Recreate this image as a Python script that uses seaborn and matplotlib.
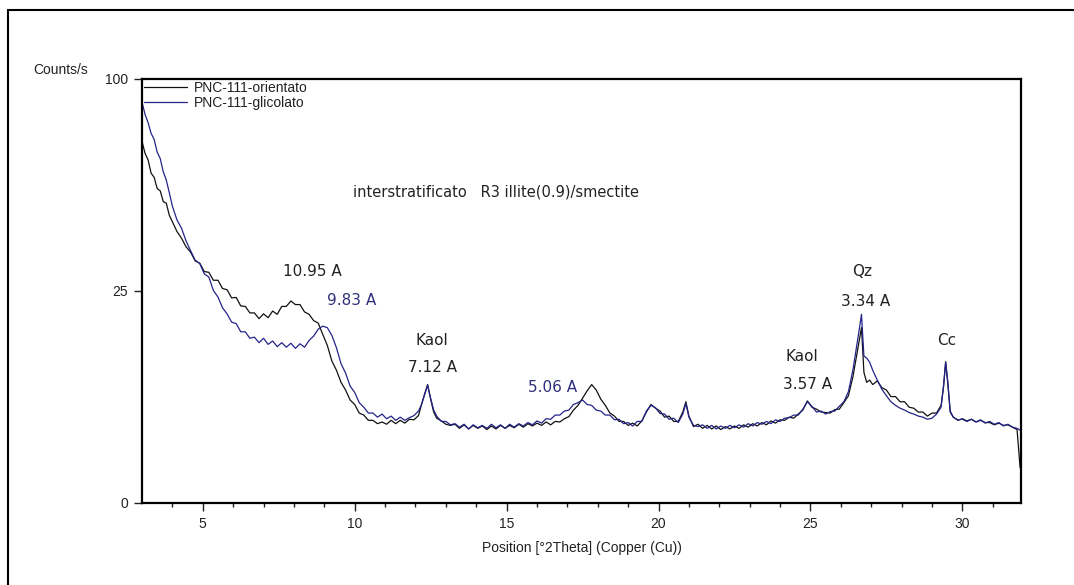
import numpy as np
import pandas as pd
import matplotlib
matplotlib.use("Agg")
import matplotlib.pyplot as plt
from matplotlib.patches import Rectangle
import seaborn as sns

# ---------------- data ----------------
two_theta = [
    3.0, 3.1, 3.2, 3.3, 3.4, 3.5, 3.6, 3.7, 3.8, 3.9, 4.0, 4.15, 4.3, 4.45, 4.6, 4.75, 4.9, 5.05,
    5.2, 5.35, 5.5, 5.65, 5.8, 5.95, 6.1, 6.25, 6.4, 6.55, 6.7, 6.85, 7.0, 7.15, 7.3, 7.45, 7.6,
    7.75, 7.9, 8.05, 8.2, 8.35, 8.5, 8.65, 8.8, 8.95, 9.1, 9.25, 9.4, 9.55, 9.7, 9.85, 10.0, 10.15,
    10.3, 10.45, 10.6, 10.75, 10.9, 11.05, 11.2, 11.35, 11.5, 11.65, 11.8, 11.95, 12.1, 12.2, 12.3,
    12.4, 12.5, 12.6, 12.7, 12.85, 13.0, 13.15, 13.3, 13.45, 13.6, 13.75, 13.9, 14.05, 14.2, 14.35,
    14.5, 14.65, 14.8, 14.95, 15.1, 15.25, 15.4, 15.55, 15.7, 15.85, 16.0, 16.15, 16.3, 16.45, 16.6,
    16.75, 16.9, 17.05, 17.2, 17.35, 17.5, 17.65, 17.8, 17.95, 18.1, 18.25, 18.4, 18.55, 18.7, 18.85,
    19.0, 19.15, 19.3, 19.45, 19.6, 19.75, 19.9, 20.05, 20.2, 20.35, 20.5, 20.65, 20.8, 20.9, 21.0,
    21.15, 21.3, 21.45, 21.6, 21.75, 21.9, 22.05, 22.2, 22.35, 22.5, 22.65, 22.8, 22.95, 23.1, 23.25,
    23.4, 23.55, 23.7, 23.85, 24.0, 24.15, 24.3, 24.45, 24.6, 24.75, 24.9, 25.05, 25.2, 25.35, 25.5,
    25.65, 25.8, 25.95, 26.1, 26.25, 26.4, 26.5, 26.6, 26.68, 26.76, 26.85, 26.95, 27.05, 27.2, 27.35,
    27.5, 27.65, 27.8, 27.95, 28.1, 28.25, 28.4, 28.55, 28.7, 28.85, 29.0, 29.15, 29.3, 29.38, 29.45,
    29.52, 29.6, 29.7, 29.85, 30.0, 30.15, 30.3, 30.45, 30.6, 30.75, 30.9, 31.05, 31.2, 31.35, 31.5,
    31.65, 31.8, 31.9,
]

orientato = [
    72.8, 68.0, 65.5, 60.5, 59.0, 55.0, 54.2, 50.5, 50.0, 46.0, 44.0, 41.0, 39.0, 36.5, 35.0, 32.6, 32.0, 29.8,
    29.6, 27.6, 27.6, 25.6, 25.3, 23.4, 23.5, 21.6, 21.5, 20.1, 20.1, 18.9, 19.9, 19.1, 20.5, 19.8, 21.5,
    21.5, 22.7, 21.9, 21.9, 20.3, 19.8, 18.5, 18.0, 15.8, 13.8, 11.2, 9.8, 8.1, 7.1, 5.9, 5.4, 4.5,
    4.3, 3.8, 3.8, 3.5, 3.65, 3.45, 3.8, 3.5, 3.8, 3.55, 3.9, 3.85, 4.25, 5.4, 6.6,
    7.8, 6.0, 4.6, 4.0, 3.75, 3.45, 3.35, 3.45, 3.1, 3.4, 3.05, 3.35, 3.1, 3.3, 3.0,
    3.3, 3.05, 3.35, 3.1, 3.35, 3.15, 3.45, 3.2, 3.5, 3.3, 3.55, 3.35, 3.65, 3.4, 3.7,
    3.65, 3.95, 4.15, 4.8, 5.3, 6.1, 7.0, 7.8, 7.1, 6.0, 5.3, 4.5, 4.2, 3.7, 3.7,
    3.35, 3.55, 3.3, 3.75, 4.6, 5.4, 5.0, 4.7, 4.1, 4.2, 3.7, 3.7, 4.6, 5.7, 4.2,
    3.25, 3.45, 3.1, 3.35, 3.05, 3.3, 3.0, 3.25, 3.05, 3.3, 3.1, 3.4, 3.2, 3.5, 3.3,
    3.6, 3.4, 3.75, 3.55, 3.85, 3.8, 4.1, 4.0, 4.4, 4.8, 5.8, 5.1, 4.9, 4.6, 4.55,
    4.5, 4.85, 4.9, 5.6, 6.4, 8.9, 11.5, 14.5, 17.1, 9.5, 8.1, 8.4, 7.8, 8.3, 7.4,
    7.1, 6.3, 6.3, 5.7, 5.7, 5.1, 5.0, 4.6, 4.6, 4.2, 4.5, 4.5, 5.3, 7.5, 11.1,
    8.0, 4.6, 4.1, 3.8, 3.95, 3.75, 3.9, 3.65, 3.8, 3.6, 3.6, 3.4, 3.55, 3.35, 3.4,
    3.2, 3.0, 0.7,
]

glicolato = [
    89.4, 84.0, 80.5, 76.0, 73.5, 68.5, 66.0, 61.0, 58.0, 53.5, 49.0, 44.6, 42.0, 38.2, 35.4, 32.8, 31.9, 29.2,
    28.4, 25.1, 23.6, 21.2, 19.9, 18.2, 17.9, 16.3, 16.3, 15.1, 15.3, 14.3, 15.1, 14.0, 14.6, 13.6, 14.3,
    13.5, 14.2, 13.3, 14.1, 13.5, 14.7, 15.5, 16.8, 17.4, 17.1, 15.6, 13.4, 10.8, 9.4, 7.6, 6.8, 5.6,
    5.1, 4.5, 4.5, 4.1, 4.4, 3.95, 4.2, 3.8, 4.1, 3.8, 4.05, 4.25, 4.7, 5.4, 6.5,
    7.7, 6.1, 4.8, 4.2, 3.7, 3.7, 3.4, 3.5, 3.2, 3.45, 3.05, 3.4, 3.15, 3.35, 3.1,
    3.45, 3.15, 3.4, 3.1, 3.45, 3.2, 3.5, 3.3, 3.6, 3.4, 3.75, 3.55, 3.95, 3.9, 4.3,
    4.3, 4.7, 4.8, 5.4, 5.6, 5.9, 5.4, 5.3, 4.8, 4.7, 4.3, 4.3, 3.85, 3.9, 3.5,
    3.6, 3.3, 3.7, 3.7, 4.7, 5.3, 5.05, 4.45, 4.4, 3.9, 4.0, 3.6, 4.4, 5.5, 4.1,
    3.35, 3.25, 3.4, 3.1, 3.35, 3.05, 3.3, 3.1, 3.35, 3.15, 3.4, 3.2, 3.5, 3.3, 3.6,
    3.45, 3.7, 3.5, 3.85, 3.7, 4.0, 4.05, 4.3, 4.3, 4.9, 5.7, 5.2, 4.6, 4.7, 4.4,
    4.65, 4.7, 5.2, 5.7, 6.9, 9.9, 13.0, 16.5, 19.8, 12.0, 11.7, 11.0, 9.8, 8.4, 7.2,
    6.4, 5.7, 5.3, 5.0, 4.8, 4.55, 4.4, 4.2, 4.1, 3.9, 4.0, 4.4, 5.1, 7.6, 11.0,
    8.2, 4.7, 4.1, 3.85, 3.9, 3.7, 3.9, 3.65, 3.85, 3.55, 3.7, 3.45, 3.6, 3.3, 3.45,
    3.2, 3.1, 2.95,
]

series_names = ["PNC-111-orientato", "PNC-111-glicolato"]
series_colors = ["#111111", "#24248a"]

y_ticks = [0, 25, 100]
x_ticks = [5, 10, 15, 20, 25, 30]

# peak labels: (text, x, y, colour)
labels_text = ["10.95 A", "9.83 A", "Kaol", "7.12 A", "5.06 A", "Kaol", "3.57 A", "Qz", "3.34 A", "Cc"]
labels_x = [8.6, 9.9, 12.55, 12.55, 16.5, 24.72, 24.9, 26.7, 26.8, 29.5]
labels_y = [29.8, 22.8, 14.7, 10.2, 7.4, 11.9, 7.8, 29.8, 22.6, 14.6]
labels_col = ["#222222", "#30307a", "#222222", "#222222", "#30307a",
              "#222222", "#222222", "#222222", "#222222", "#222222"]
title_note = "interstratificato   R3 illite(0.9)/smectite"

# ---------------- figure ----------------
sns.set_theme(style="white")
plt.rcParams["font.family"] = ["Liberation Sans", "DejaVu Sans"]

df = pd.DataFrame({
    "x": two_theta * 2,
    "y": orientato + glicolato,
    "s": [series_names[0]] * len(two_theta) + [series_names[1]] * len(two_theta),
})

fig = plt.figure(figsize=(10.74, 5.85), dpi=100)
ax = fig.add_axes([142 / 1074, 1 - 503 / 585, (1021 - 142) / 1074, (503 - 79) / 585])

sns.lineplot(data=df, x="x", y="y", hue="s", palette=dict(zip(series_names, series_colors)),
             estimator=None, sort=False, linewidth=0.9, ax=ax)

ax.set_yscale("function", functions=(lambda v: np.sqrt(np.clip(v, 0, None)), lambda v: np.square(v)))
ax.set_ylim(0, 100)
ax.set_xlim(3.0, 31.93)
ax.set_yticks(y_ticks)
ax.set_yticklabels([str(t) for t in y_ticks])
ax.set_xticks(x_ticks)
ax.set_xticks(list(range(4, 32)), minor=True)
ax.tick_params(axis="both", which="major", direction="out", length=6, width=1.0,
               color="#222222", labelsize=10, pad=4, labelcolor="#222222")
ax.tick_params(axis="x", which="minor", direction="out", length=3, width=1.0, color="#222222")
ax.tick_params(bottom=True, left=True, which="both")
ax.tick_params(axis="x", which="minor", bottom=True)
for sp in ax.spines.values():
    sp.set_visible(True)
    sp.set_linewidth(1.6)
    sp.set_color("#000000")
ax.grid(False)

ax.set_xlabel("Position [°2Theta] (Copper (Cu))", fontsize=10, color="#222222", labelpad=7)
ax.set_ylabel("")
fig.text(33 / 1074, 1 - 70 / 585, "Counts/s", ha="left", va="center", fontsize=10, color="#222222")

leg = ax.legend(loc="upper left", bbox_to_anchor=(0.0, 1.0), borderaxespad=0.0, borderpad=0.15,
                frameon=False, handlelength=3.1, handletextpad=0.45, labelspacing=0.05, fontsize=10)
for t in leg.get_texts():
    t.set_color("#222222")
for h in leg.legend_handles:
    h.set_linewidth(0.9)

for t, x, y, c in zip(labels_text, labels_x, labels_y, labels_col):
    ax.text(x, y, t, ha="center", va="center", fontsize=11, color=c, family="DejaVu Sans")
ax.text(9.95, 53.7, title_note, ha="left", va="center", fontsize=10.5, color="#222222", family="DejaVu Sans")

top = 1 - 10 / 585
fig.patches.append(Rectangle((8 / 1074, -0.2), 2.0, top + 0.2, transform=fig.transFigure,
                             fill=False, edgecolor="#000000", linewidth=1.5))

fig.savefig("out.png", dpi=100, facecolor="white")
